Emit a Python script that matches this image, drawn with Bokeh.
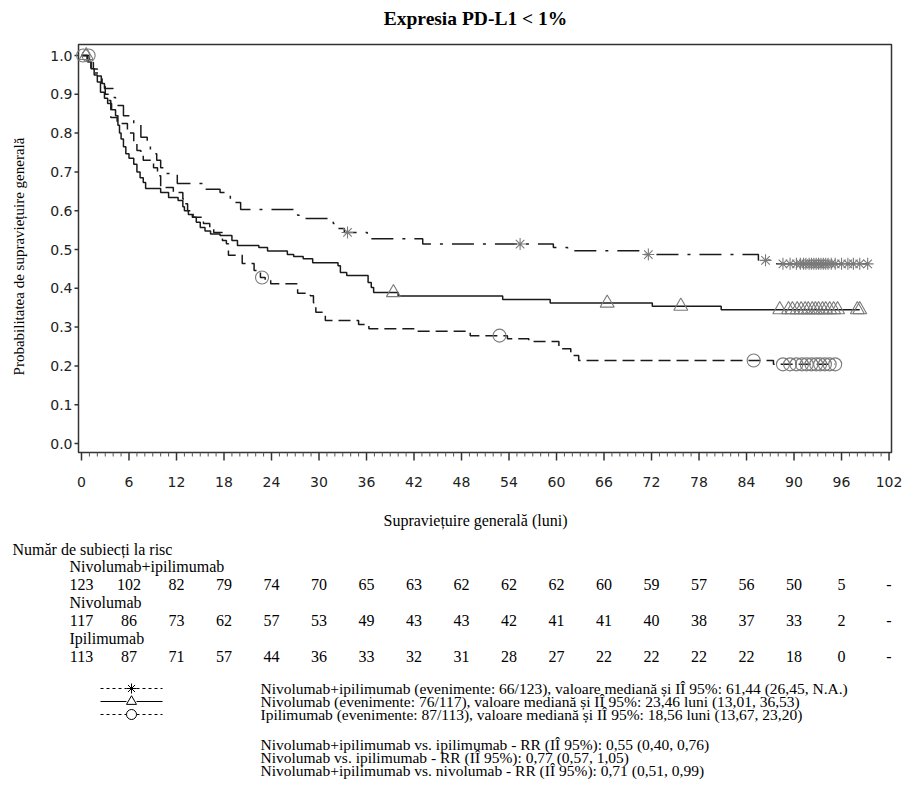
import numpy as np
from bokeh.plotting import figure
from bokeh.models import Range1d
from bokeh.core.properties import value
from bokeh.embed import file_html
from bokeh.resources import INLINE

# ---------------- data ----------------
TITLE = "Expresia PD-L1 < 1%"
X_LABEL = "Supraviețuire generală (luni)"
Y_LABEL = "Probabilitatea de supraviețuire generală"

x_ticks = list(range(0, 103, 6))
x_minor = [m for m in range(0, 103) if m % 6 != 0]
y_ticks = [0.0, 0.1, 0.2, 0.3, 0.4, 0.5, 0.6, 0.7, 0.8, 0.9, 1.0]

# Nivolumab+ipilimumab (dash-dot, asterisks)
ni_t = [0, 0.7, 1.2, 1.7, 2.2, 2.6, 2.9, 4.0, 4.3, 5.3, 6.6, 7.5, 8.3, 8.7, 9.5, 10.0, 10.4,
        12.1, 15.3, 17.5, 18.8, 19.2, 20.1, 27.3, 27.7, 31.8, 32.3, 33.2, 36.1, 43.1, 59.6,
        61.4, 70.6, 85.5, 87.0]
ni_s = [1.0, 0.985, 0.97, 0.955, 0.94, 0.928, 0.915, 0.892, 0.871, 0.845, 0.825, 0.789, 0.773,
        0.747, 0.73, 0.711, 0.696, 0.67, 0.655, 0.647, 0.631, 0.621, 0.603, 0.588, 0.58, 0.567,
        0.554, 0.544, 0.528, 0.514, 0.505, 0.497, 0.487, 0.472, 0.463]
ni_cens = [33.6, 55.4, 71.6, 86.4, 88.6, 89.5, 90.3, 90.8, 91.2, 91.5, 91.9, 92.2, 92.5, 92.8,
           93.1, 93.4, 93.7, 94.0, 94.3, 94.7, 95.2, 96.0, 96.8, 97.5, 98.3, 99.3]

# Nivolumab (solid, triangles)
nv_t = [0, 0.8, 1.2, 1.6, 2.0, 2.4, 2.9, 3.3, 3.8, 4.3, 4.6, 4.8, 5.0, 5.3, 5.6, 6.0, 6.6, 7.0,
        7.4, 7.8, 8.1, 10.0, 11.0, 12.2, 12.8, 13.0, 13.5, 14.0, 14.5, 15.0, 15.6, 16.3, 17.5,
        19.0, 19.7, 22.4, 23.5, 26.0, 26.8, 28.0, 29.2, 32.4, 32.7, 33.5, 36.2, 36.6, 36.9,
        40.0, 53.2, 59.2, 72.1, 80.8]
nv_s = [1.0, 0.983, 0.966, 0.95, 0.932, 0.905, 0.89, 0.876, 0.86, 0.845, 0.82, 0.80, 0.785,
        0.765, 0.747, 0.735, 0.72, 0.70, 0.685, 0.673, 0.657, 0.647, 0.634, 0.626, 0.61, 0.60,
        0.59, 0.583, 0.57, 0.557, 0.548, 0.54, 0.536, 0.523, 0.51, 0.505, 0.496, 0.487, 0.482,
        0.476, 0.466, 0.458, 0.441, 0.433, 0.415, 0.402, 0.389, 0.38, 0.371, 0.362, 0.354, 0.345]
nv_cens = [0.6, 39.4, 66.4, 75.7, 88.2, 89.3, 89.8, 90.4, 90.9, 91.4, 91.8, 92.3, 92.7, 93.1,
           93.6, 94.0, 94.5, 95.0, 95.5, 98.0, 98.3]

# Ipilimumab (dashed, circles)
ip_t = [0, 1.0, 1.5, 2.0, 2.5, 3.0, 3.4, 3.7, 4.5, 5.8, 6.6, 7.0, 7.5, 7.8, 9.1, 9.6, 10.0,
        11.6, 12.8, 13.0, 13.4, 14.1, 15.4, 16.2, 16.7, 17.8, 18.3, 18.56, 20.3, 21.8, 22.6,
        23.2, 23.9, 27.3, 28.9, 29.3, 29.6, 30.8, 35.0, 36.3, 42.2, 49.1, 53.8, 56.5, 60.3,
        61.8, 62.8, 87.4]
ip_s = [1.0, 0.982, 0.965, 0.947, 0.92, 0.90, 0.884, 0.84, 0.825, 0.80, 0.773, 0.755, 0.742,
        0.73, 0.711, 0.69, 0.66, 0.647, 0.63, 0.618, 0.60, 0.583, 0.567, 0.555, 0.544, 0.523,
        0.515, 0.485, 0.464, 0.446, 0.428, 0.42, 0.412, 0.387, 0.381, 0.363, 0.338, 0.317,
        0.307, 0.296, 0.289, 0.278, 0.27, 0.263, 0.244, 0.227, 0.214, 0.204]
ip_cens = [0.2, 0.9, 22.8, 52.8, 84.9, 88.6, 89.5, 90.3, 91.0, 91.6, 92.2, 92.8, 93.3, 93.9,
           94.5, 95.2]

# Risk table
risk_title = "Număr de subiecți la risc"
risk_groups = ["Nivolumab+ipilimumab", "Nivolumab", "Ipilimumab"]
risk_ni = [123, 102, 82, 79, 74, 70, 65, 63, 62, 62, 62, 60, 59, 57, 56, 50, 5, "-"]
risk_nv = [117, 86, 73, 62, 57, 53, 49, 43, 43, 42, 41, 41, 40, 38, 37, 33, 2, "-"]
risk_ip = [113, 87, 71, 57, 44, 36, 33, 32, 31, 28, 27, 22, 22, 22, 22, 18, 0, "-"]

legend_texts = [
    "Nivolumab+ipilimumab (evenimente: 66/123), valoare mediană și IÎ 95%: 61,44 (26,45, N.A.)",
    "Nivolumab (evenimente: 76/117), valoare mediană și IÎ 95%: 23,46 luni (13,01, 36,53)",
    "Ipilimumab (evenimente: 87/113), valoare mediană și IÎ 95%: 18,56 luni (13,67, 23,20)",
]
hr_texts = [
    "Nivolumab+ipilimumab vs. ipilimumab - RR (IÎ 95%): 0,55 (0,40, 0,76)",
    "Nivolumab vs. ipilimumab - RR (IÎ 95%): 0,77 (0,57, 1,05)",
    "Nivolumab+ipilimumab vs. nivolumab - RR (IÎ 95%): 0,71 (0,51, 0,99)",
]

# ---------------- layout constants (page pixels) ----------------
W, H = 915, 800
FR_L, FR_R, FR_T, FR_B = 78, 891, 44, 452
X0_PX, PX_PER_M = 81.0, 7.917      # page x of month 0, pixels per month
Y0_PX, PX_PER_U = 443.0, 388.0     # page y of survival 0, pixels per unit


def m_of(px):
    return (px - X0_PX) / PX_PER_M


def s_of(py):
    return (Y0_PX - py) / PX_PER_U


SERIF = value("Liberation Serif")
SANS = value("DejaVu Sans")
LINE_C = "#1a1a1a"
MARK_C = "#7a7a7a"
AXIS_C = "#333333"

p = figure(width=W, height=H, output_backend="svg", toolbar_location=None,
           x_range=Range1d(m_of(0), m_of(W)), y_range=Range1d(s_of(H), s_of(0)),
           x_axis_location=None, y_axis_location=None,
           min_border_left=0, min_border_right=0, min_border_top=0, min_border_bottom=0)
p.toolbar.logo = None
p.grid.visible = False
p.outline_line_color = None
p.background_fill_color = "white"
p.border_fill_color = "white"

# plot box
p.quad(left=[m_of(FR_L)], right=[m_of(FR_R)], top=[s_of(FR_T)], bottom=[s_of(FR_B)],
       fill_color=None, line_color=AXIS_C, line_width=1.5)

# x axis ticks and labels
n_x = len(x_ticks)
p.segment(x0=x_ticks, y0=[s_of(FR_B)] * n_x, x1=x_ticks, y1=[s_of(FR_B + 8)] * n_x,
          line_color=AXIS_C, line_width=1.5)
p.segment(x0=x_minor, y0=[s_of(FR_B)] * len(x_minor), x1=x_minor,
          y1=[s_of(FR_B + 4)] * len(x_minor), line_color="#555555", line_width=1)
p.text(x=x_ticks, y=[s_of(481)] * n_x, text=[str(v) for v in x_ticks],
       text_font=SANS, text_font_size="14px", text_color="#222222",
       text_align="center", text_baseline="middle")
p.text(x=[m_of(475)], y=[s_of(520)], text=[X_LABEL], text_font=SERIF,
       text_font_size="16px", text_color="black", text_align="center",
       text_baseline="middle")

# y axis ticks and labels
n_y = len(y_ticks)
p.segment(x0=[m_of(FR_L - 4)] * n_y, y0=y_ticks, x1=[m_of(FR_L)] * n_y, y1=y_ticks,
          line_color=AXIS_C, line_width=1.5)
p.text(x=[m_of(FR_L - 6)] * n_y, y=y_ticks, text=[f"{v:.1f}" for v in y_ticks],
       text_font=SANS, text_font_size="14px", text_color="#222222",
       text_align="right", text_baseline="middle")
p.text(x=[m_of(18)], y=[s_of(256)], text=[Y_LABEL], angle=np.pi / 2, text_font=SERIF,
       text_font_size="15px", text_color="black", text_align="center",
       text_baseline="middle")

# title
p.text(x=[m_of(475)], y=[s_of(18)], text=[TITLE], text_font=SERIF, text_font_size="19.5px",
       text_font_style="bold", text_color="black", text_align="center",
       text_baseline="middle")


def surv_at(tt, ss, c):
    tt = np.asarray(tt, dtype=float)
    idx = np.searchsorted(tt, np.asarray(c, dtype=float), side="right") - 1
    return np.asarray(ss, dtype=float)[idx]


curves = [
    (ni_t, ni_s, ni_cens, "22 9 3 9", "asterisk", 12),
    (nv_t, nv_s, nv_cens, "solid", "triangle", 14),
    (ip_t, ip_s, ip_cens, "12 6", "circle", 13),
]
for tt, ss, cc, dash, mk, sz in curves:
    xs = list(tt) + [max(cc)]
    ys = list(ss) + [ss[-1]]
    p.step(xs, ys, mode="after", line_color=LINE_C, line_width=1.5, line_dash=dash)
    p.scatter(cc, surv_at(tt, ss, cc), marker=mk, size=sz, line_color=MARK_C,
              fill_color=None, line_width=1.1)

# ---------------- risk table ----------------
txt = dict(text_font=SERIF, text_font_size="16px", text_color="black",
           text_baseline="middle")

p.text(x=[m_of(12)], y=[s_of(549)], text=[risk_title], text_align="left", **txt)
row_y = [(566, 584), (602, 620), (638, 656)]
for name, vals, (yn, yv) in zip(risk_groups, [risk_ni, risk_nv, risk_ip], row_y):
    p.text(x=[m_of(69)], y=[s_of(yn)], text=[name], text_align="left", **txt)
    p.text(x=x_ticks, y=[s_of(yv)] * n_x, text=[str(v) for v in vals],
           text_align="center", **txt)

# ---------------- legend ----------------
ltxt = dict(text_font=SERIF, text_font_size="15.5px", text_color="black",
            text_baseline="middle")
leg_y = [688, 701, 714]
hr_y = [744, 757, 770]
p.text(x=[m_of(260)] * 3, y=[s_of(v) for v in leg_y], text=legend_texts,
       text_align="left", **ltxt)
p.text(x=[m_of(260)] * 3, y=[s_of(v) for v in hr_y], text=hr_texts,
       text_align="left", **ltxt)

samp_dash = ["3 3", "solid", "3 3"]
samp_mk = ["asterisk", "triangle", "circle"]
for yy, dsh, mk in zip(leg_y, samp_dash, samp_mk):
    p.segment(x0=[m_of(100), m_of(136)], y0=[s_of(yy)] * 2, x1=[m_of(126), m_of(162)],
              y1=[s_of(yy)] * 2, line_color="black", line_width=1, line_dash=dsh)
    p.scatter([m_of(131)], [s_of(yy)], marker=mk, size=10, line_color="black",
              fill_color=None, line_width=1)

open("out.html", "w").write(file_html(p, INLINE))
